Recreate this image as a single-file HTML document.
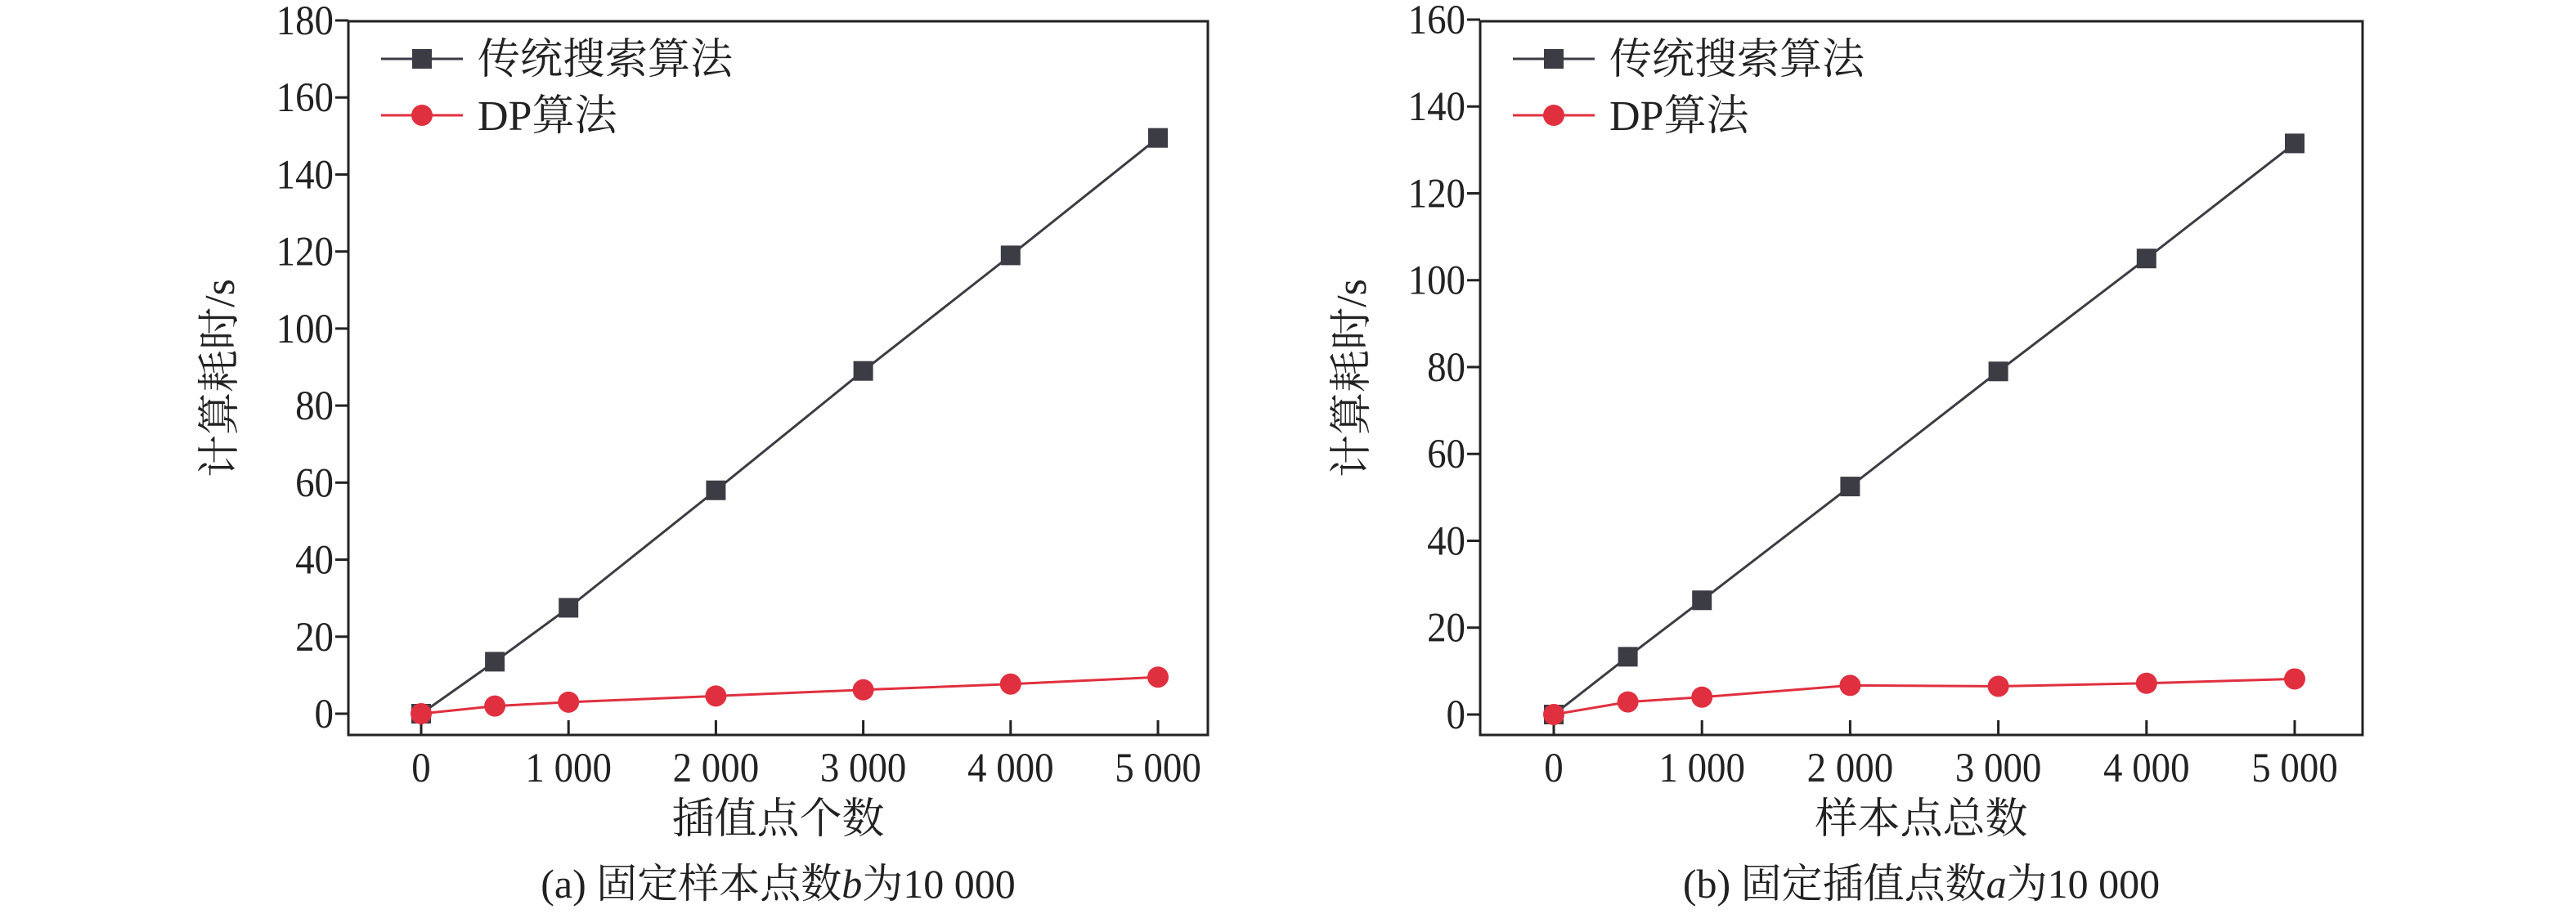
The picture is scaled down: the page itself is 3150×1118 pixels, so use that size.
<!DOCTYPE html>
<html><head><meta charset="utf-8"><style>
body{margin:0;background:#fff;}
svg text{font-family:"Liberation Serif","Noto Serif CJK SC",serif;fill:#222;}
</style></head><body>
<svg id="s" width="3150" height="1113" viewBox="0 0 3150 1113" xmlns="http://www.w3.org/2000/svg"></svg>
<script>
const xCats=[0,500,1000,2000,3000,4000,5000];
const xTickVals=[0,1000,2000,3000,4000,5000];
const xTickLabels=["0","1 000","2 000","3 000","4 000","5 000"];
const tradA=[0,13.5,27.5,58,89,119,149.5];
const dpA=[0,2,3,4.6,6.2,7.7,9.5];
const tradB=[0,13.3,26.3,52.5,79,105,131.5];
const dpB=[0,2.9,4,6.7,6.5,7.2,8.2];
const yTicksA=[0,20,40,60,80,100,120,140,160,180];
const yTicksB=[0,20,40,60,80,100,120,140,160];
const NS="http://www.w3.org/2000/svg";
const svg=document.getElementById('s');
function mk(tag,attrs,parent,txt){const e=document.createElementNS(NS,tag);for(const k in attrs)e.setAttribute(k,attrs[k]);if(txt!==undefined)e.textContent=txt;(parent||svg).appendChild(e);return e;}
function chart(cfg){
  const g=mk('g',{});
  
  
  const xs=v=>cfg.x0+(v/5000)*(cfg.x1-cfg.x0);
  const ys=v=>cfg.y0-(v/cfg.ymax)*(cfg.y0-cfg.ytop);
  const box=mk('rect',{x:cfg.L,y:cfg.T,width:cfg.R-cfg.L,height:cfg.B-cfg.T,fill:'none',stroke:'#222','stroke-width':3},g);
  
  
  cfg.yt.forEach(v=>{
    const y=ys(v);
    mk('line',{x1:cfg.L-16,x2:cfg.L,y1:y,y2:y,stroke:'#222','stroke-width':3},g);
    const t=mk('text',{x:cfg.L-18,y:y+17,'text-anchor':'end','font-size':51,transform:`translate(${cfg.L-18},0) scale(0.92,1) translate(${-(cfg.L-18)},0)`},g,String(v));
    
    
  });
  xTickVals.forEach((v,i)=>{
    const x=xs(v);
    mk('line',{x1:x,x2:x,y1:cfg.B-18,y2:cfg.B,stroke:'#222','stroke-width':3},g);
    const t=mk('text',{x:x,y:956,'text-anchor':'middle','font-size':51,transform:`translate(${x},0) scale(0.92,1) translate(${-x},0)`},g,xTickLabels[i]);
    
    
  });
  const series=[[cfg.trad,'#3c3c44','sq'],[cfg.dp,'#e0303f','ci']];
  series.forEach(([d,c,m])=>{
    const pts=d.map((v,i)=>xs(xCats[i])+','+ys(v)).join(' ');
    const pl=mk('polyline',{points:pts,fill:'none',stroke:c,'stroke-width':3},g);
    
    
    d.forEach((v,i)=>{
      const x=xs(xCats[i]),y=ys(v);
      let e;
      if(m==='sq') e=mk('rect',{x:x-12,y:y-12,width:24,height:24,fill:c},g);
      else e=mk('circle',{cx:x,cy:y,r:13,fill:c},g);
      
      
    });
  });
  const lx=cfg.L+40;
  [[72,'#3c3c44','sq','传统搜索算法'],[141,'#e0303f','ci','DP算法']].forEach(([y,c,m,lab])=>{
    const lg=mk('g',{},g);
    
    
    mk('line',{x1:lx,x2:lx+100,y1:y,y2:y,stroke:c,'stroke-width':3},lg);
    if(m==='sq') mk('rect',{x:lx+38,y:y-12,width:24,height:24,fill:c},lg);
    else mk('circle',{cx:lx+50,cy:y,r:13,fill:c},lg);
    mk('text',{x:lx+118,y:y+18,'font-size':52},lg,lab);
  });
  const yl=mk('text',{x:0,y:0,'text-anchor':'middle','font-size':52,transform:`translate(${cfg.L-140},${(cfg.T+cfg.B)/2}) rotate(-90)`},g,'计算耗时/s');
  
  
  const xl=mk('text',{x:(cfg.L+cfg.R)/2,y:1019,'text-anchor':'middle','font-size':52},g,cfg.xlabel);
  
  
  const cap=mk('text',{x:(cfg.L+cfg.R)/2,y:1098,'text-anchor':'middle','font-size':50},g);
  
  
  mk('tspan',{},cap,cfg.cap1);
  mk('tspan',{'font-style':'italic'},cap,cfg.capv);
  mk('tspan',{},cap,'为10 000');
}
chart({name:'chart-a',L:426,R:1477,T:26,B:899,x0:515,x1:1416,y0:873,ytop:25,ymax:180,yt:yTicksA,trad:tradA,dp:dpA,xlabel:'插值点个数',cap1:'(a) 固定样本点数',capv:'b'});
chart({name:'chart-b',L:1810,R:2889,T:26,B:899,x0:1900,x1:2806,y0:874,ytop:24,ymax:160,yt:yTicksB,trad:tradB,dp:dpB,xlabel:'样本点总数',cap1:'(b) 固定插值点数',capv:'a'});
</script>
</body></html>
